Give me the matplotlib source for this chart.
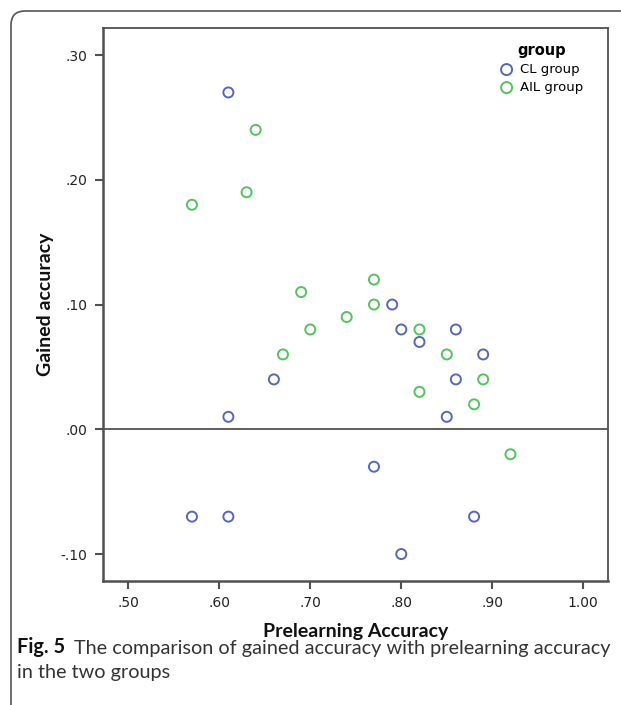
import numpy as np
import matplotlib
matplotlib.use('Agg')
from matplotlib import pyplot as plt
from matplotlib.patches import FancyBboxPatch
from matplotlib.transforms import IdentityTransform

# data
cl_pre = [0.61, 0.61, 0.66, 0.79, 0.80, 0.82, 0.86, 0.86, 0.85, 0.89, 0.77, 0.57, 0.61, 0.88, 0.80]
cl_gain = [0.27, 0.01, 0.04, 0.10, 0.08, 0.07, 0.08, 0.04, 0.01, 0.06, -0.03, -0.07, -0.07, -0.07, -0.10]

ail_pre = [0.57, 0.64, 0.63, 0.69, 0.70, 0.67, 0.74, 0.77, 0.77, 0.82, 0.82, 0.85, 0.88, 0.89, 0.92]
ail_gain = [0.18, 0.24, 0.19, 0.11, 0.08, 0.06, 0.09, 0.12, 0.10, 0.08, 0.03, 0.06, 0.02, 0.04, -0.02]

xticks = [0.5, 0.6, 0.7, 0.8, 0.9, 1.0]
xticklabels = ['.50', '.60', '.70', '.80', '.90', '1.00']
yticks = [-0.1, 0.0, 0.1, 0.2, 0.3]
yticklabels = ['-.10', '.00', '.10', '.20', '.30']

blue = '#5567bd'
green = '#55c35d'
frame = '#505050'

W, H = 621, 705
fig = plt.figure(figsize=(W / 100, H / 100), dpi=100)
fig.patch.set_facecolor('white')

# axes placed in pixel terms
l, r, t, b = 102.7, 608.3, 27.7, 581
ax = fig.add_axes([l / W, 1 - b / H, (r - l) / W, (b - t) / H])

ax.scatter(cl_pre, cl_gain, s=52, facecolors='none', edgecolors=blue,
           linewidths=1.4, label='CL group', zorder=3)
ax.scatter(ail_pre, ail_gain, s=52, facecolors='none', edgecolors=green,
           linewidths=1.4, label='AIL group', zorder=3)
ax.axhline(0, color=frame, lw=1.3, zorder=2)

ax.set_xlim(0.4719, 1.0275)
ax.set_ylim(-0.1216, 0.3219)
ax.set_xticks(xticks)
ax.set_xticklabels(xticklabels)
ax.set_yticks(yticks)
ax.set_yticklabels(yticklabels)
ax.tick_params(direction='out', length=6, width=1.5, color=frame,
               labelsize=10, labelcolor='#222222', pad=5)
for s in ax.spines.values():
    s.set_color(frame)
    s.set_linewidth(1.3)
ax.spines['left'].set_linewidth(1.8)
ax.spines['bottom'].set_linewidth(1.8)

ax.set_xlabel('Prelearning Accuracy', family='Lato', fontweight='bold',
              fontsize=14, color='#111111', labelpad=9)
ax.set_ylabel('Gained accuracy', family='Lato', fontweight='bold',
              fontsize=14, color='#111111', labelpad=5)

leg = ax.legend(title='group', frameon=False, loc='upper left',
                bbox_to_anchor=(500 / W, 1 - 43 / H), bbox_transform=fig.transFigure,
                fontsize=9.5, handletextpad=0.55, labelspacing=0.38,
                borderaxespad=0, handlelength=1.0, borderpad=0, markerscale=1.1)
leg.get_title().set_fontweight('bold')
leg.get_title().set_fontsize(10.5)

# rounded frame round the figure
box = FancyBboxPatch((11, -30), 660, H - 11 + 30, boxstyle='round,pad=0,rounding_size=14',
                     transform=IdentityTransform(), fill=False, edgecolor='#555555', lw=1.2)
fig.add_artist(box)

# caption
cap = fig.text(17 / W, 1 - 653 / H, 'Fig. 5', family='Lato', fontweight='bold',
               fontsize=14.3, color='#111111', va='baseline')
ax.annotate('The comparison of gained accuracy with prelearning accuracy',
            xy=(1, 0), xycoords=cap, xytext=(6.5, 0), textcoords='offset points',
            family='Lato', fontsize=14.3, color='#333333', va='bottom')
fig.text(17 / W, 1 - 678 / H, 'in the two groups', family='Lato',
         fontsize=14.3, color='#333333', va='baseline')

plt.savefig('out.png', dpi=100)
